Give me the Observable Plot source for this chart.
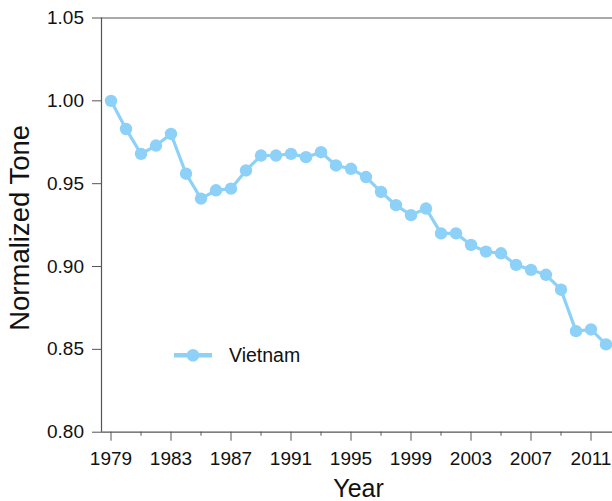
<!DOCTYPE html>
<html>
<head>
<meta charset="utf-8">
<script src="https://cdn.jsdelivr.net/npm/d3@7"></script>
<script src="https://cdn.jsdelivr.net/npm/@observablehq/plot@0.6"></script>
<style>
  html, body { margin: 0; padding: 0; background: #fff; }
  #chart { position: relative; width: 612px; height: 501px; overflow: hidden; }
  svg { font-family: Arial, "Liberation Sans", sans-serif; }
</style>
</head>
<body>
<div id="chart"></div>
<script>
const years = d3.range(1979, 2013);
const tone = [
  1.000, 0.983, 0.968, 0.973, 0.980, 0.956, 0.941, 0.946, 0.947, 0.958,
  0.967, 0.967, 0.968, 0.966, 0.969, 0.961, 0.959, 0.954, 0.945, 0.937,
  0.931, 0.935, 0.920, 0.920, 0.913, 0.909, 0.908, 0.901, 0.898, 0.895,
  0.886, 0.861, 0.862, 0.853
];
const seriesName = "Vietnam";
const xMajorTicks = [1979, 1983, 1987, 1991, 1995, 1999, 2003, 2007, 2011];
const xMinorTicks = [1981, 1985, 1989, 1993, 1997, 2001, 2005, 2009];
const yTicks = [0.80, 0.85, 0.90, 0.95, 1.00, 1.05];
const xTitle = "Year";
const yTitle = "Normalized Tone";

const color = "#8dd1f8";
const axisColor = "#555";
const data = years.map((y, i) => ({year: y, tone: tone[i]}));

const W = 612, H = 501;
const mL = 101, mR = 0, mT = 17.5, mB = 69.3;
const pxPerYear = 15;
const x0 = 1979 - (110.5 - mL) / pxPerYear;
const x1 = x0 + (W - mL - mR) / pxPerYear;

const chart = Plot.plot({
  width: W,
  height: H,
  marginLeft: mL,
  marginRight: mR,
  marginTop: mT,
  marginBottom: mB,
  style: {fontFamily: "Arial, 'Liberation Sans', sans-serif", color: "#111", background: "#fff", overflow: "visible"},
  x: {domain: [x0, x1]},
  y: {domain: [0.80, 1.05]},
  marks: [
    Plot.ruleY([0.80, 1.05], {stroke: axisColor, strokeWidth: 1.2}),
    Plot.ruleX([x0], {stroke: axisColor, strokeWidth: 1.2}),
    Plot.axisY({ticks: yTicks, tickSize: 9, tickPadding: 8.5, tickFormat: d3.format(".2f"), fontSize: 19, stroke: axisColor, fill: "#111", label: null}),
    Plot.axisX({ticks: xMajorTicks, tickSize: 9, tickPadding: 10, tickFormat: d => String(d), fontSize: 19, stroke: axisColor, fill: "#111", label: null}),
    Plot.axisX({ticks: xMinorTicks, tickSize: 4, text: null, stroke: axisColor, label: null}),
    Plot.line(data, {x: "year", y: "tone", stroke: color, strokeWidth: 3.2}),
    Plot.dot(data, {x: "year", y: "tone", r: 6.2, fill: color, stroke: "none"}),
    Plot.text([xTitle], {frameAnchor: "bottom", lineAnchor: "bottom", textAnchor: "middle", dx: 1.5, dy: 64.5, fontSize: 25, fill: "#111"}),
    Plot.text([yTitle], {frameAnchor: "left", lineAnchor: "bottom", textAnchor: "middle", rotate: -90, dx: -72.5, dy: 2.8, fontSize: 27.5, fill: "#111"})
  ]
});

// legend overlay
const svg = d3.select(chart);
const lg = svg.append("g").attr("class", "legend");
lg.append("line").attr("x1", 174).attr("x2", 212).attr("y1", 355.3).attr("y2", 355.3)
  .attr("stroke", color).attr("stroke-width", 4.5);
lg.append("circle").attr("cx", 193).attr("cy", 355.3).attr("r", 6.3).attr("fill", color);
lg.append("text").attr("x", 229).attr("y", 362).attr("text-anchor", "start")
  .attr("font-size", 19.5).attr("fill", "#111").text(seriesName);

document.getElementById("chart").appendChild(chart);
</script>
</body>
</html>
